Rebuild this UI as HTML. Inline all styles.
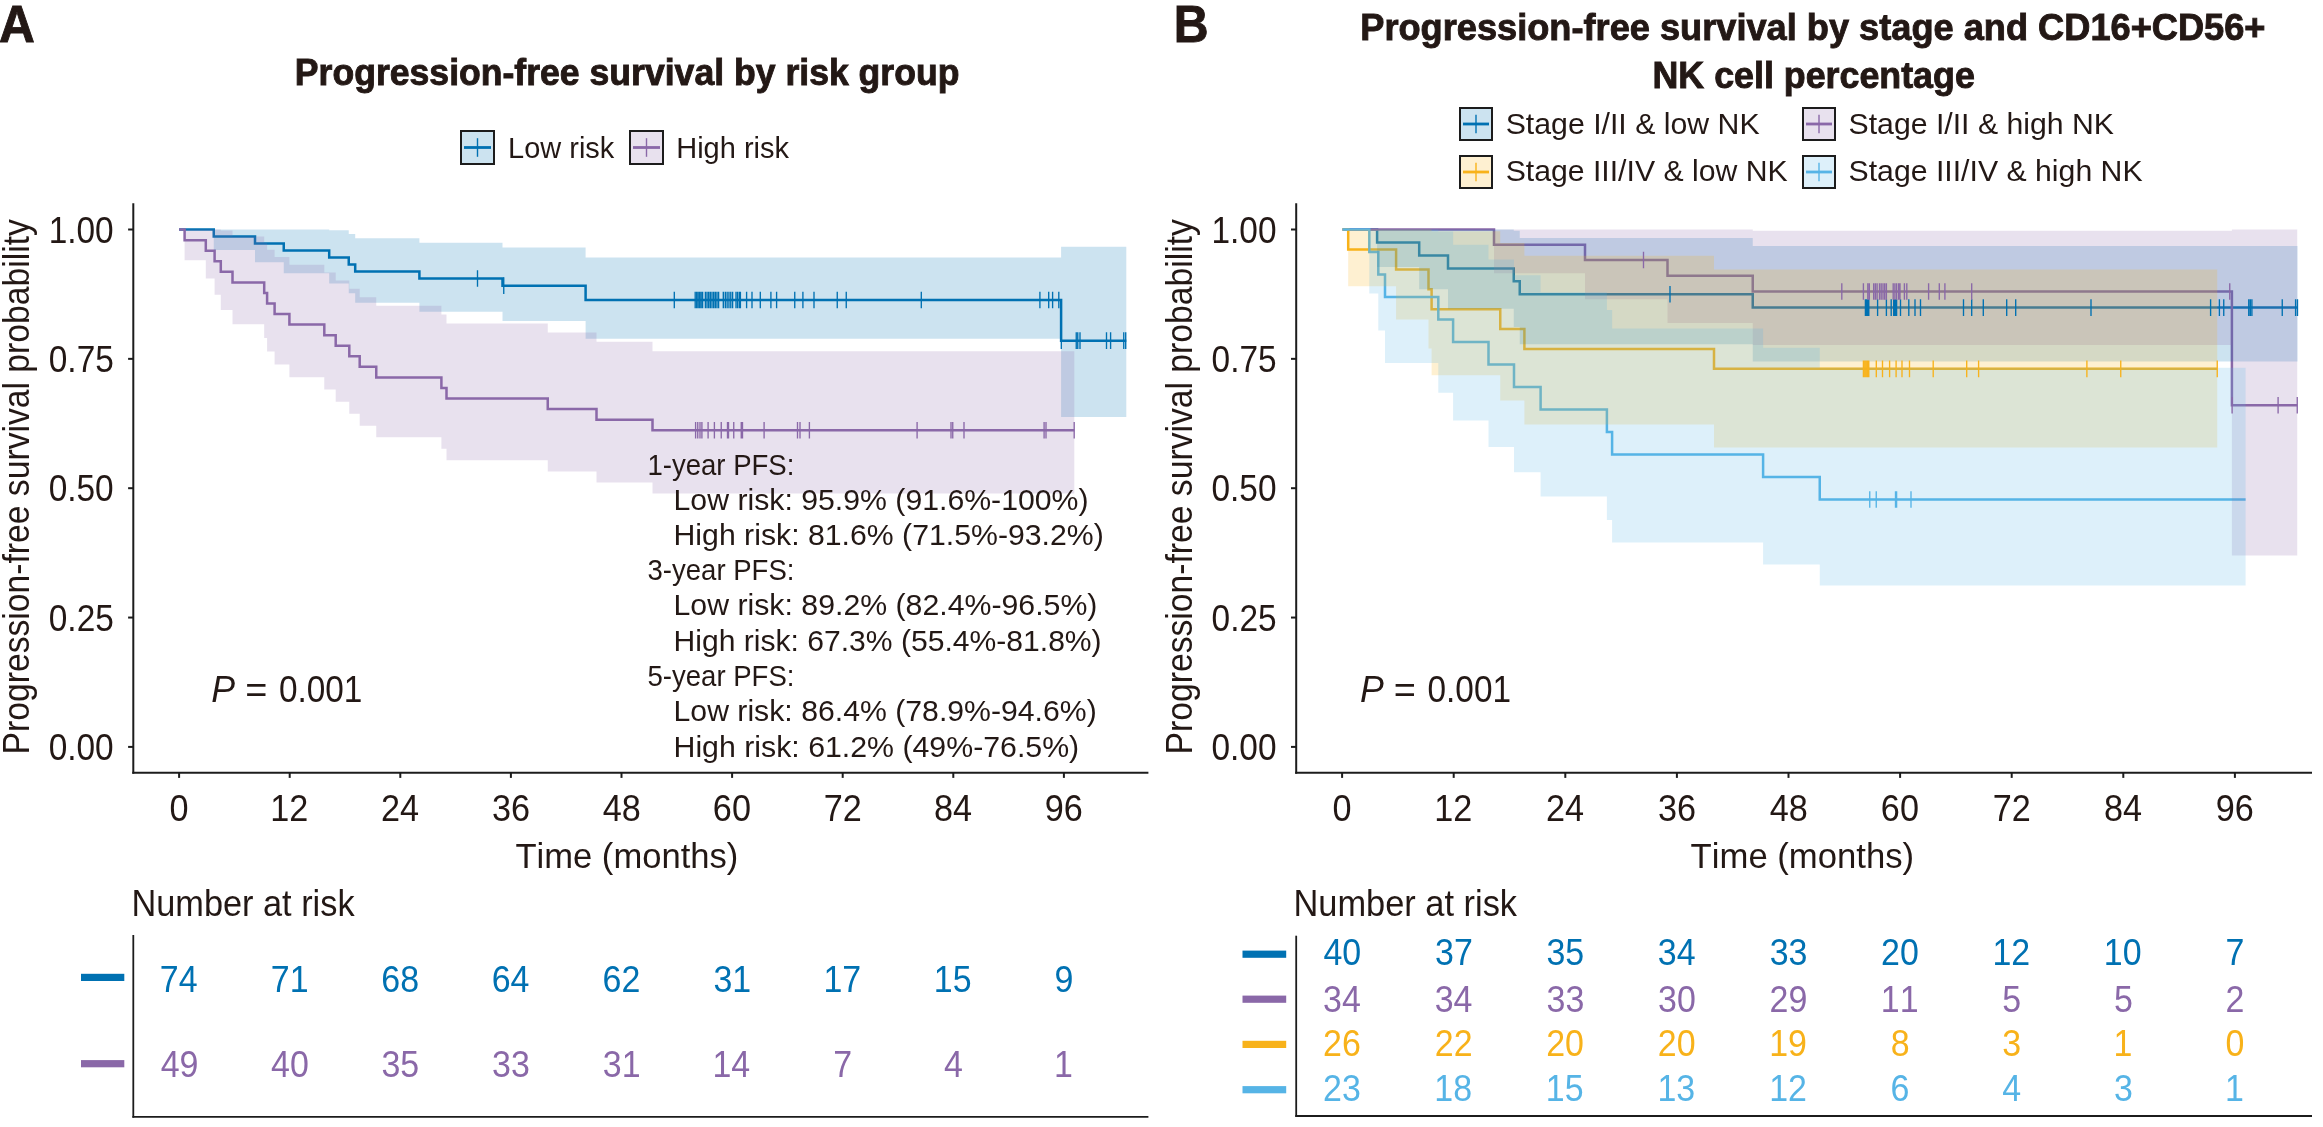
<!DOCTYPE html>
<html><head><meta charset="utf-8"><style>
html,body{margin:0;padding:0;background:#fff;}
svg{display:block;font-family:"Liberation Sans",sans-serif;font-kerning:none;will-change:transform;}
</style></head><body>
<svg width="2323" height="1127" viewBox="0 0 2323 1127">
<rect width="2323" height="1127" fill="#fff"/>
<text x="-0.94" y="41.80" font-size="52" font-weight="bold" stroke="#231815" stroke-width="0.9" fill="#231815" textLength="35.84" lengthAdjust="spacingAndGlyphs">A</text>
<text x="294.82" y="85.10" font-size="36.6" font-weight="bold" stroke="#231815" stroke-width="0.9" fill="#231815" textLength="664.64" lengthAdjust="spacingAndGlyphs">Progression-free survival by risk group</text>
<rect x="461" y="131" width="33" height="33" fill="#0071B2" fill-opacity="0.2" stroke="#1c1c1c" stroke-width="2"/>
<line x1="464" y1="147.5" x2="491" y2="147.5" stroke="#0071B2" stroke-width="2.8"/>
<line x1="477.5" y1="138.2" x2="477.5" y2="156.8" stroke="#0071B2" stroke-width="1.4"/>
<rect x="630" y="131" width="33" height="33" fill="#8A68A8" fill-opacity="0.2" stroke="#1c1c1c" stroke-width="2"/>
<line x1="633" y1="147.5" x2="660" y2="147.5" stroke="#8A68A8" stroke-width="2.8"/>
<line x1="646.5" y1="138.2" x2="646.5" y2="156.8" stroke="#8A68A8" stroke-width="1.4"/>
<text x="508.12" y="157.90" font-size="30.4" fill="#231815" textLength="106.23" lengthAdjust="spacingAndGlyphs">Low risk</text>
<text x="676.22" y="157.90" font-size="30.4" fill="#231815" textLength="112.74" lengthAdjust="spacingAndGlyphs">High risk</text>
<path d="M179.10,229.60H213.75V236.59H255.00V243.58H283.75V250.57H329.20V257.56H348.75V264.55H355.20V271.54H419.40V278.53H502.50V285.63H585.60V300.04H1061.10V340.67H1126.30" stroke="#0071B2" stroke-width="2.5" fill="none"/>
<path d="M179.10,229.60H184.60V240.16H205.80V250.71H214.60V261.27H220.80V271.83H232.50V282.39H264.20V292.94H267.10V303.50H274.60V314.06H289.40V324.61H324.30V335.17H335.70V345.73H349.30V356.29H359.70V366.84H376.25V377.40H441.40V387.96H446.50V398.51H547.75V409.07H596.50V419.63H652.50V430.19H1074.30" stroke="#8A68A8" stroke-width="2.5" fill="none"/>
<path d="M213.75,229.60 L213.75,229.60 L255.00,229.60 L255.00,229.60 L283.75,229.60 L283.75,229.60 L329.20,229.60 L329.20,230.17 L348.75,230.17 L348.75,234.04 L355.20,234.04 L355.20,238.26 L419.40,238.26 L419.40,242.74 L502.50,242.74 L502.50,247.47 L585.60,247.47 L585.60,257.54 L1061.10,257.54 L1061.10,246.84 L1126.30,246.84 L1126.30,416.89 L1061.10,416.89 L1061.10,338.86 L585.60,338.86 L585.60,320.88 L502.50,320.88 L502.50,311.79 L419.40,311.79 L419.40,302.65 L355.20,302.65 L355.20,293.25 L348.75,293.25 L348.75,283.50 L329.20,283.50 L329.20,273.28 L283.75,273.28 L283.75,262.34 L255.00,262.34 L255.00,250.02 L213.75,250.02 L213.75,229.60Z" fill="#0071B2" fill-opacity="0.2"/>
<path d="M184.60,229.60 L184.60,229.60 L205.80,229.60 L205.80,229.60 L214.60,229.60 L214.60,229.60 L220.80,229.60 L220.80,230.47 L232.50,230.47 L232.50,236.41 L264.20,236.41 L264.20,242.89 L267.10,242.89 L267.10,249.80 L274.60,249.80 L274.60,257.07 L289.40,257.07 L289.40,264.63 L324.30,264.63 L324.30,272.45 L335.70,272.45 L335.70,280.50 L349.30,280.50 L349.30,288.76 L359.70,288.76 L359.70,297.20 L376.25,297.20 L376.25,305.81 L441.40,305.81 L441.40,314.59 L446.50,314.59 L446.50,323.52 L547.75,323.52 L547.75,332.59 L596.50,332.59 L596.50,341.79 L652.50,341.79 L652.50,351.13 L1074.30,351.13 L1074.30,493.45 L652.50,493.45 L652.50,482.51 L596.50,482.51 L596.50,471.44 L547.75,471.44 L547.75,460.23 L446.50,460.23 L446.50,448.87 L441.40,448.87 L441.40,437.37 L376.25,437.37 L376.25,425.70 L359.70,425.70 L359.70,413.86 L349.30,413.86 L349.30,401.83 L335.70,401.83 L335.70,389.60 L324.30,389.60 L324.30,377.14 L289.40,377.14 L289.40,364.41 L274.60,364.41 L274.60,351.40 L267.10,351.40 L267.10,338.02 L264.20,338.02 L264.20,324.22 L232.50,324.22 L232.50,309.88 L220.80,309.88 L220.80,294.78 L214.60,294.78 L214.60,278.56 L205.80,278.56 L205.80,260.23 L184.60,260.23 L184.60,229.60Z" fill="#8A68A8" fill-opacity="0.2"/>
<path d="M477.50,270.23V286.83M503.75,277.33V293.93M674.30,291.74V308.34M695.20,291.74V308.34M696.68,291.74V308.34M698.16,291.74V308.34M699.64,291.74V308.34M701.12,291.74V308.34M702.60,291.74V308.34M705.40,291.74V308.34M707.05,291.74V308.34M708.70,291.74V308.34M710.35,291.74V308.34M712.00,291.74V308.34M713.65,291.74V308.34M715.30,291.74V308.34M716.95,291.74V308.34M718.60,291.74V308.34M723.30,291.74V308.34M725.30,291.74V308.34M727.12,291.74V308.34M728.95,291.74V308.34M730.77,291.74V308.34M732.60,291.74V308.34M736.00,291.74V308.34M737.60,291.74V308.34M739.40,291.74V308.34M740.40,291.74V308.34M746.60,291.74V308.34M752.00,291.74V308.34M760.30,291.74V308.34M770.90,291.74V308.34M776.60,291.74V308.34M794.75,291.74V308.34M802.90,291.74V308.34M814.00,291.74V308.34M837.25,291.74V308.34M846.25,291.74V308.34M921.30,291.74V308.34M1039.90,291.74V308.34M1048.70,291.74V308.34M1052.60,291.74V308.34M1058.80,291.74V308.34M1061.30,332.37V348.97M1076.25,332.37V348.97M1077.75,332.37V348.97M1080.00,332.37V348.97M1106.50,332.37V348.97M1110.60,332.37V348.97M1123.75,332.37V348.97M1125.70,332.37V348.97" stroke="#0071B2" stroke-width="1.35" fill="none"/>
<path d="M695.60,421.89V438.49M697.75,421.89V438.49M700.00,421.89V438.49M701.90,421.89V438.49M708.10,421.89V438.49M714.40,421.89V438.49M721.25,421.89V438.49M727.50,421.89V438.49M728.50,421.89V438.49M733.75,421.89V438.49M741.25,421.89V438.49M742.50,421.89V438.49M764.10,421.89V438.49M797.50,421.89V438.49M800.00,421.89V438.49M809.40,421.89V438.49M917.10,421.89V438.49M951.00,421.89V438.49M952.75,421.89V438.49M964.00,421.89V438.49M1044.10,421.89V438.49M1046.00,421.89V438.49M1074.20,421.89V438.49" stroke="#8A68A8" stroke-width="1.35" fill="none"/>
<line x1="133.3" y1="203.3" x2="133.3" y2="773.7" stroke="#1c1c1c" stroke-width="2"/>
<line x1="132.3" y1="772.7" x2="1148.4" y2="772.7" stroke="#1c1c1c" stroke-width="2"/>
<line x1="128.10000000000002" y1="229.5" x2="133.3" y2="229.5" stroke="#1c1c1c" stroke-width="2"/>
<text x="48.70" y="242.70" font-size="36.5" fill="#231815" textLength="65.00" lengthAdjust="spacingAndGlyphs">1.00</text>
<line x1="128.10000000000002" y1="358.85" x2="133.3" y2="358.85" stroke="#1c1c1c" stroke-width="2"/>
<text x="48.80" y="372.05" font-size="36.5" fill="#231815" textLength="65.00" lengthAdjust="spacingAndGlyphs">0.75</text>
<line x1="128.10000000000002" y1="488.2" x2="133.3" y2="488.2" stroke="#1c1c1c" stroke-width="2"/>
<text x="48.70" y="501.40" font-size="36.5" fill="#231815" textLength="65.00" lengthAdjust="spacingAndGlyphs">0.50</text>
<line x1="128.10000000000002" y1="617.55" x2="133.3" y2="617.55" stroke="#1c1c1c" stroke-width="2"/>
<text x="48.80" y="630.75" font-size="36.5" fill="#231815" textLength="65.00" lengthAdjust="spacingAndGlyphs">0.25</text>
<line x1="128.10000000000002" y1="746.9" x2="133.3" y2="746.9" stroke="#1c1c1c" stroke-width="2"/>
<text x="48.70" y="760.10" font-size="36.5" fill="#231815" textLength="65.00" lengthAdjust="spacingAndGlyphs">0.00</text>
<line x1="179.1" y1="772.7" x2="179.1" y2="777.9" stroke="#1c1c1c" stroke-width="2"/>
<text x="169.58" y="820.60" font-size="37" fill="#231815" textLength="19.03" lengthAdjust="spacingAndGlyphs">0</text>
<line x1="289.7" y1="772.7" x2="289.7" y2="777.9" stroke="#1c1c1c" stroke-width="2"/>
<text x="270.22" y="820.60" font-size="37" fill="#231815" textLength="38.07" lengthAdjust="spacingAndGlyphs">12</text>
<line x1="400.29999999999995" y1="772.7" x2="400.29999999999995" y2="777.9" stroke="#1c1c1c" stroke-width="2"/>
<text x="380.91" y="820.60" font-size="37" fill="#231815" textLength="38.07" lengthAdjust="spacingAndGlyphs">24</text>
<line x1="510.9" y1="772.7" x2="510.9" y2="777.9" stroke="#1c1c1c" stroke-width="2"/>
<text x="491.97" y="820.60" font-size="37" fill="#231815" textLength="38.07" lengthAdjust="spacingAndGlyphs">36</text>
<line x1="621.5" y1="772.7" x2="621.5" y2="777.9" stroke="#1c1c1c" stroke-width="2"/>
<text x="602.82" y="820.60" font-size="37" fill="#231815" textLength="38.07" lengthAdjust="spacingAndGlyphs">48</text>
<line x1="732.1" y1="772.7" x2="732.1" y2="777.9" stroke="#1c1c1c" stroke-width="2"/>
<text x="712.87" y="820.60" font-size="37" fill="#231815" textLength="38.07" lengthAdjust="spacingAndGlyphs">60</text>
<line x1="842.6999999999999" y1="772.7" x2="842.6999999999999" y2="777.9" stroke="#1c1c1c" stroke-width="2"/>
<text x="823.65" y="820.60" font-size="37" fill="#231815" textLength="38.07" lengthAdjust="spacingAndGlyphs">72</text>
<line x1="953.3" y1="772.7" x2="953.3" y2="777.9" stroke="#1c1c1c" stroke-width="2"/>
<text x="934.02" y="820.60" font-size="37" fill="#231815" textLength="38.07" lengthAdjust="spacingAndGlyphs">84</text>
<line x1="1063.8999999999999" y1="772.7" x2="1063.8999999999999" y2="777.9" stroke="#1c1c1c" stroke-width="2"/>
<text x="1044.82" y="820.60" font-size="37" fill="#231815" textLength="38.07" lengthAdjust="spacingAndGlyphs">96</text>
<text transform="rotate(-90)" x="-754.46" y="29.1" font-size="36" fill="#231815" textLength="535.33" lengthAdjust="spacingAndGlyphs">Progression-free survival probability</text>
<text x="515.42" y="867.80" font-size="35.8" fill="#231815" textLength="222.92" lengthAdjust="spacingAndGlyphs">Time (months)</text>
<text x="647.40" y="475.00" font-size="30" fill="#231815" textLength="147.02" lengthAdjust="spacingAndGlyphs">1-year PFS:</text>
<text x="673.52" y="509.90" font-size="30" fill="#231815" textLength="415.05" lengthAdjust="spacingAndGlyphs">Low risk: 95.9% (91.6%-100%)</text>
<text x="673.52" y="545.30" font-size="30" fill="#231815" textLength="430.26" lengthAdjust="spacingAndGlyphs">High risk: 81.6% (71.5%-93.2%)</text>
<text x="647.55" y="580.30" font-size="30" fill="#231815" textLength="146.86" lengthAdjust="spacingAndGlyphs">3-year PFS:</text>
<text x="673.52" y="615.40" font-size="30" fill="#231815" textLength="423.86" lengthAdjust="spacingAndGlyphs">Low risk: 89.2% (82.4%-96.5%)</text>
<text x="673.53" y="650.70" font-size="30" fill="#231815" textLength="428.13" lengthAdjust="spacingAndGlyphs">High risk: 67.3% (55.4%-81.8%)</text>
<text x="647.50" y="685.90" font-size="30" fill="#231815" textLength="146.92" lengthAdjust="spacingAndGlyphs">5-year PFS:</text>
<text x="673.52" y="721.20" font-size="30" fill="#231815" textLength="423.25" lengthAdjust="spacingAndGlyphs">Low risk: 86.4% (78.9%-94.6%)</text>
<text x="673.52" y="756.60" font-size="30" fill="#231815" textLength="405.66" lengthAdjust="spacingAndGlyphs">High risk: 61.2% (49%-76.5%)</text>
<text x="211.30" y="701.80" font-size="36" font-style="italic" fill="#231815" textLength="23.83" lengthAdjust="spacingAndGlyphs">P</text>
<text x="245.25" y="701.80" font-size="36" fill="#231815" textLength="22.12" lengthAdjust="spacingAndGlyphs">=</text>
<text x="278.90" y="701.80" font-size="36" fill="#231815" textLength="83.53" lengthAdjust="spacingAndGlyphs">0.001</text>
<text x="131.49" y="916.40" font-size="36.5" fill="#231815" textLength="223.06" lengthAdjust="spacingAndGlyphs">Number at risk</text>
<line x1="133.3" y1="935" x2="133.3" y2="1117.7" stroke="#1c1c1c" stroke-width="1.8"/>
<line x1="132.4" y1="1116.8" x2="1148.4" y2="1116.8" stroke="#1c1c1c" stroke-width="1.8"/>
<rect x="81" y="973.80" width="43.30" height="7.2" fill="#0071B2"/>
<text x="159.85" y="992.30" font-size="36.5" fill="#0071B2" textLength="37.76" lengthAdjust="spacingAndGlyphs">74</text>
<text x="270.78" y="992.30" font-size="36.5" fill="#0071B2" textLength="37.76" lengthAdjust="spacingAndGlyphs">71</text>
<text x="381.30" y="992.30" font-size="36.5" fill="#0071B2" textLength="37.76" lengthAdjust="spacingAndGlyphs">68</text>
<text x="491.66" y="992.30" font-size="36.5" fill="#0071B2" textLength="37.76" lengthAdjust="spacingAndGlyphs">64</text>
<text x="602.61" y="992.30" font-size="36.5" fill="#0071B2" textLength="37.76" lengthAdjust="spacingAndGlyphs">62</text>
<text x="713.40" y="992.30" font-size="36.5" fill="#0071B2" textLength="37.76" lengthAdjust="spacingAndGlyphs">31</text>
<text x="823.38" y="992.30" font-size="36.5" fill="#0071B2" textLength="37.76" lengthAdjust="spacingAndGlyphs">17</text>
<text x="933.84" y="992.30" font-size="36.5" fill="#0071B2" textLength="37.76" lengthAdjust="spacingAndGlyphs">15</text>
<text x="1054.47" y="992.30" font-size="36.5" fill="#0071B2" textLength="18.88" lengthAdjust="spacingAndGlyphs">9</text>
<rect x="81" y="1060.10" width="43.30" height="7.2" fill="#8A68A8"/>
<text x="160.64" y="1076.90" font-size="36.5" fill="#8A68A8" textLength="37.76" lengthAdjust="spacingAndGlyphs">49</text>
<text x="271.09" y="1076.90" font-size="36.5" fill="#8A68A8" textLength="37.76" lengthAdjust="spacingAndGlyphs">40</text>
<text x="381.49" y="1076.90" font-size="36.5" fill="#8A68A8" textLength="37.76" lengthAdjust="spacingAndGlyphs">35</text>
<text x="492.12" y="1076.90" font-size="36.5" fill="#8A68A8" textLength="37.76" lengthAdjust="spacingAndGlyphs">33</text>
<text x="602.80" y="1076.90" font-size="36.5" fill="#8A68A8" textLength="37.76" lengthAdjust="spacingAndGlyphs">31</text>
<text x="712.43" y="1076.90" font-size="36.5" fill="#8A68A8" textLength="37.76" lengthAdjust="spacingAndGlyphs">14</text>
<text x="833.24" y="1076.90" font-size="36.5" fill="#8A68A8" textLength="18.88" lengthAdjust="spacingAndGlyphs">7</text>
<text x="943.97" y="1076.90" font-size="36.5" fill="#8A68A8" textLength="18.88" lengthAdjust="spacingAndGlyphs">4</text>
<text x="1054.00" y="1076.90" font-size="36.5" fill="#8A68A8" textLength="18.88" lengthAdjust="spacingAndGlyphs">1</text>
<text x="1173.78" y="41.60" font-size="52" font-weight="bold" stroke="#231815" stroke-width="0.9" fill="#231815" textLength="34.81" lengthAdjust="spacingAndGlyphs">B</text>
<text x="1360.28" y="40.00" font-size="36.6" font-weight="bold" stroke="#231815" stroke-width="0.9" fill="#231815" textLength="905.19" lengthAdjust="spacingAndGlyphs">Progression-free survival by stage and CD16+CD56+</text>
<text x="1652.51" y="87.90" font-size="36.6" font-weight="bold" stroke="#231815" stroke-width="0.9" fill="#231815" textLength="322.32" lengthAdjust="spacingAndGlyphs">NK cell percentage</text>
<rect x="1460" y="108" width="32" height="32" fill="#0071B2" fill-opacity="0.2" stroke="#1c1c1c" stroke-width="2"/>
<line x1="1463" y1="124.0" x2="1489" y2="124.0" stroke="#0071B2" stroke-width="2.8"/>
<line x1="1476.0" y1="114.7" x2="1476.0" y2="133.3" stroke="#0071B2" stroke-width="1.4"/>
<rect x="1803" y="108" width="32" height="32" fill="#8A68A8" fill-opacity="0.2" stroke="#1c1c1c" stroke-width="2"/>
<line x1="1806" y1="124.0" x2="1832" y2="124.0" stroke="#8A68A8" stroke-width="2.8"/>
<line x1="1819.0" y1="114.7" x2="1819.0" y2="133.3" stroke="#8A68A8" stroke-width="1.4"/>
<rect x="1460" y="156" width="32" height="32" fill="#F8B21A" fill-opacity="0.2" stroke="#1c1c1c" stroke-width="2"/>
<line x1="1463" y1="172.0" x2="1489" y2="172.0" stroke="#F8B21A" stroke-width="2.8"/>
<line x1="1476.0" y1="162.7" x2="1476.0" y2="181.3" stroke="#F8B21A" stroke-width="1.4"/>
<rect x="1803" y="156" width="32" height="32" fill="#56B4E6" fill-opacity="0.2" stroke="#1c1c1c" stroke-width="2"/>
<line x1="1806" y1="172.0" x2="1832" y2="172.0" stroke="#56B4E6" stroke-width="2.8"/>
<line x1="1819.0" y1="162.7" x2="1819.0" y2="181.3" stroke="#56B4E6" stroke-width="1.4"/>
<text x="1505.63" y="133.50" font-size="29.8" fill="#231815" textLength="254.01" lengthAdjust="spacingAndGlyphs">Stage I/II &amp; low NK</text>
<text x="1848.53" y="133.50" font-size="29.8" fill="#231815" textLength="265.51" lengthAdjust="spacingAndGlyphs">Stage I/II &amp; high NK</text>
<text x="1505.63" y="181.20" font-size="29.8" fill="#231815" textLength="282.01" lengthAdjust="spacingAndGlyphs">Stage III/IV &amp; low NK</text>
<text x="1848.53" y="181.20" font-size="29.8" fill="#231815" textLength="294.11" lengthAdjust="spacingAndGlyphs">Stage III/IV &amp; high NK</text>
<path d="M1342.60,229.60H1377.10V242.53H1419.20V255.47H1448.00V268.40H1513.75V281.33H1519.75V294.26H1752.75V307.58H2297.50" stroke="#0071B2" stroke-width="2.5" fill="none"/>
<path d="M1342.60,229.60H1494.00V244.81H1585.00V260.03H1667.50V275.73H1752.75V291.44H2231.90V405.31H2297.25" stroke="#8A68A8" stroke-width="2.5" fill="none"/>
<path d="M1342.60,229.60H1348.20V249.50H1396.10V269.39H1428.50V289.29H1431.60V309.18H1500.25V329.08H1524.40V348.98H1714.00V368.87H2217.25" stroke="#F8B21A" stroke-width="2.5" fill="none"/>
<path d="M1342.60,229.60H1369.30V252.09H1378.30V274.58H1385.00V297.07H1438.30V319.57H1453.10V342.06H1488.50V364.55H1514.00V387.04H1540.60V409.53H1606.90V432.02H1612.10V454.51H1763.10V477.00H1819.75V499.50H2245.60" stroke="#56B4E6" stroke-width="2.5" fill="none"/>
<path d="M1377.10,229.60 L1377.10,229.60 L1419.20,229.60 L1419.20,229.60 L1448.00,229.60 L1448.00,229.60 L1513.75,229.60 L1513.75,230.66 L1519.75,230.66 L1519.75,238.01 L1752.75,238.01 L1752.75,246.12 L2297.50,246.12 L2297.50,361.49 L1752.75,361.49 L1752.75,344.29 L1519.75,344.29 L1519.75,327.02 L1513.75,327.02 L1513.75,308.81 L1448.00,308.81 L1448.00,289.19 L1419.20,289.19 L1419.20,266.95 L1377.10,266.95 L1377.10,229.60Z" fill="#0071B2" fill-opacity="0.2"/>
<path d="M1494.00,229.60 L1494.00,229.60 L1585.00,229.60 L1585.00,229.60 L1667.50,229.60 L1667.50,229.60 L1752.75,229.60 L1752.75,230.83 L2231.90,230.83 L2231.90,229.60 L2297.25,229.60 L2297.25,555.53 L2231.90,555.53 L2231.90,344.93 L1752.75,344.93 L1752.75,323.04 L1667.50,323.04 L1667.50,299.27 L1585.00,299.27 L1585.00,273.35 L1494.00,273.35 L1494.00,229.60Z" fill="#8A68A8" fill-opacity="0.2"/>
<path d="M1348.20,229.60 L1348.20,229.60 L1396.10,229.60 L1396.10,229.60 L1428.50,229.60 L1428.50,229.60 L1431.60,229.60 L1431.60,231.23 L1500.25,231.23 L1500.25,242.88 L1524.40,242.88 L1524.40,255.73 L1714.00,255.73 L1714.00,269.54 L2217.25,269.54 L2217.25,447.54 L1714.00,447.54 L1714.00,424.52 L1524.40,424.52 L1524.40,400.54 L1500.25,400.54 L1500.25,375.36 L1431.60,375.36 L1431.60,348.60 L1428.50,348.60 L1428.50,319.54 L1396.10,319.54 L1396.10,286.30 L1348.20,286.30 L1348.20,229.60Z" fill="#F8B21A" fill-opacity="0.2"/>
<path d="M1369.30,229.60 L1369.30,229.60 L1378.30,229.60 L1378.30,229.60 L1385.00,229.60 L1385.00,229.60 L1438.30,229.60 L1438.30,231.43 L1453.10,231.43 L1453.10,244.75 L1488.50,244.75 L1488.50,259.47 L1514.00,259.47 L1514.00,275.34 L1540.60,275.34 L1540.60,292.20 L1606.90,292.20 L1606.90,309.93 L1612.10,309.93 L1612.10,328.47 L1763.10,328.47 L1763.10,347.76 L1819.75,347.76 L1819.75,367.77 L2245.60,367.77 L2245.60,585.46 L1819.75,585.46 L1819.75,564.40 L1763.10,564.40 L1763.10,542.59 L1612.10,542.59 L1612.10,520.00 L1606.90,520.00 L1606.90,496.59 L1540.60,496.59 L1540.60,472.28 L1514.00,472.28 L1514.00,446.97 L1488.50,446.97 L1488.50,420.51 L1453.10,420.51 L1453.10,392.63 L1438.30,392.63 L1438.30,362.93 L1385.00,362.93 L1385.00,330.55 L1378.30,330.55 L1378.30,293.38 L1369.30,293.38 L1369.30,229.60Z" fill="#56B4E6" fill-opacity="0.2"/>
<path d="M1670.00,285.96V302.56M1865.40,299.28V315.88M1866.60,299.28V315.88M1867.80,299.28V315.88M1868.80,299.28V315.88M1877.60,299.28V315.88M1886.40,299.28V315.88M1891.20,299.28V315.88M1893.70,299.28V315.88M1894.70,299.28V315.88M1895.60,299.28V315.88M1896.60,299.28V315.88M1900.50,299.28V315.88M1908.80,299.28V315.88M1915.00,299.28V315.88M1920.50,299.28V315.88M1963.50,299.28V315.88M1971.70,299.28V315.88M1983.30,299.28V315.88M2006.70,299.28V315.88M2015.70,299.28V315.88M2091.00,299.28V315.88M2210.60,299.28V315.88M2219.40,299.28V315.88M2223.75,299.28V315.88M2248.75,299.28V315.88M2250.30,299.28V315.88M2251.90,299.28V315.88M2282.25,299.28V315.88M2295.60,299.28V315.88M2297.50,299.28V315.88" stroke="#0071B2" stroke-width="1.35" fill="none"/>
<path d="M1643.50,251.73V268.33M1841.80,283.14V299.74M1863.40,283.14V299.74M1867.80,283.14V299.74M1869.30,283.14V299.74M1873.70,283.14V299.74M1875.40,283.14V299.74M1877.10,283.14V299.74M1879.50,283.14V299.74M1881.20,283.14V299.74M1883.00,283.14V299.74M1884.70,283.14V299.74M1886.40,283.14V299.74M1893.20,283.14V299.74M1894.90,283.14V299.74M1896.60,283.14V299.74M1898.60,283.14V299.74M1900.00,283.14V299.74M1904.40,283.14V299.74M1906.80,283.14V299.74M1928.60,283.14V299.74M1939.30,283.14V299.74M1944.90,283.14V299.74M1971.70,283.14V299.74M2229.75,283.14V299.74M2232.10,397.01V413.61M2278.10,397.01V413.61M2297.25,397.01V413.61" stroke="#8A68A8" stroke-width="1.35" fill="none"/>
<path d="M1863.40,360.57V377.17M1864.80,360.57V377.17M1866.20,360.57V377.17M1867.60,360.57V377.17M1868.80,360.57V377.17M1876.30,360.57V377.17M1882.50,360.57V377.17M1889.60,360.57V377.17M1896.10,360.57V377.17M1902.00,360.57V377.17M1909.50,360.57V377.17M1933.20,360.57V377.17M1966.70,360.57V377.17M1978.60,360.57V377.17M2086.90,360.57V377.17M2120.75,360.57V377.17M2217.25,360.57V377.17" stroke="#F8B21A" stroke-width="1.35" fill="none"/>
<path d="M1869.75,491.20V507.80M1876.25,491.20V507.80M1895.50,491.20V507.80M1896.60,491.20V507.80M1911.00,491.20V507.80" stroke="#56B4E6" stroke-width="1.35" fill="none"/>
<line x1="1296.2" y1="203.3" x2="1296.2" y2="773.7" stroke="#1c1c1c" stroke-width="2"/>
<line x1="1295.2" y1="772.7" x2="2312" y2="772.7" stroke="#1c1c1c" stroke-width="2"/>
<line x1="1291.0" y1="229.5" x2="1296.2" y2="229.5" stroke="#1c1c1c" stroke-width="2"/>
<text x="1211.50" y="242.70" font-size="36.5" fill="#231815" textLength="65.00" lengthAdjust="spacingAndGlyphs">1.00</text>
<line x1="1291.0" y1="358.85" x2="1296.2" y2="358.85" stroke="#1c1c1c" stroke-width="2"/>
<text x="1211.60" y="372.05" font-size="36.5" fill="#231815" textLength="65.00" lengthAdjust="spacingAndGlyphs">0.75</text>
<line x1="1291.0" y1="488.2" x2="1296.2" y2="488.2" stroke="#1c1c1c" stroke-width="2"/>
<text x="1211.50" y="501.40" font-size="36.5" fill="#231815" textLength="65.00" lengthAdjust="spacingAndGlyphs">0.50</text>
<line x1="1291.0" y1="617.55" x2="1296.2" y2="617.55" stroke="#1c1c1c" stroke-width="2"/>
<text x="1211.60" y="630.75" font-size="36.5" fill="#231815" textLength="65.00" lengthAdjust="spacingAndGlyphs">0.25</text>
<line x1="1291.0" y1="746.9" x2="1296.2" y2="746.9" stroke="#1c1c1c" stroke-width="2"/>
<text x="1211.50" y="760.10" font-size="36.5" fill="#231815" textLength="65.00" lengthAdjust="spacingAndGlyphs">0.00</text>
<line x1="1342.1" y1="772.7" x2="1342.1" y2="777.9" stroke="#1c1c1c" stroke-width="2"/>
<text x="1332.58" y="820.60" font-size="37" fill="#231815" textLength="19.03" lengthAdjust="spacingAndGlyphs">0</text>
<line x1="1453.6999999999998" y1="772.7" x2="1453.6999999999998" y2="777.9" stroke="#1c1c1c" stroke-width="2"/>
<text x="1434.22" y="820.60" font-size="37" fill="#231815" textLength="38.07" lengthAdjust="spacingAndGlyphs">12</text>
<line x1="1565.3" y1="772.7" x2="1565.3" y2="777.9" stroke="#1c1c1c" stroke-width="2"/>
<text x="1545.91" y="820.60" font-size="37" fill="#231815" textLength="38.07" lengthAdjust="spacingAndGlyphs">24</text>
<line x1="1676.8999999999999" y1="772.7" x2="1676.8999999999999" y2="777.9" stroke="#1c1c1c" stroke-width="2"/>
<text x="1657.97" y="820.60" font-size="37" fill="#231815" textLength="38.07" lengthAdjust="spacingAndGlyphs">36</text>
<line x1="1788.5" y1="772.7" x2="1788.5" y2="777.9" stroke="#1c1c1c" stroke-width="2"/>
<text x="1769.82" y="820.60" font-size="37" fill="#231815" textLength="38.07" lengthAdjust="spacingAndGlyphs">48</text>
<line x1="1900.1" y1="772.7" x2="1900.1" y2="777.9" stroke="#1c1c1c" stroke-width="2"/>
<text x="1880.87" y="820.60" font-size="37" fill="#231815" textLength="38.07" lengthAdjust="spacingAndGlyphs">60</text>
<line x1="2011.6999999999998" y1="772.7" x2="2011.6999999999998" y2="777.9" stroke="#1c1c1c" stroke-width="2"/>
<text x="1992.65" y="820.60" font-size="37" fill="#231815" textLength="38.07" lengthAdjust="spacingAndGlyphs">72</text>
<line x1="2123.2999999999997" y1="772.7" x2="2123.2999999999997" y2="777.9" stroke="#1c1c1c" stroke-width="2"/>
<text x="2104.02" y="820.60" font-size="37" fill="#231815" textLength="38.07" lengthAdjust="spacingAndGlyphs">84</text>
<line x1="2234.8999999999996" y1="772.7" x2="2234.8999999999996" y2="777.9" stroke="#1c1c1c" stroke-width="2"/>
<text x="2215.82" y="820.60" font-size="37" fill="#231815" textLength="38.07" lengthAdjust="spacingAndGlyphs">96</text>
<text transform="rotate(-90)" x="-754.46" y="1191.5" font-size="36" fill="#231815" textLength="535.33" lengthAdjust="spacingAndGlyphs">Progression-free survival probability</text>
<text x="1690.62" y="867.90" font-size="35.8" fill="#231815" textLength="223.53" lengthAdjust="spacingAndGlyphs">Time (months)</text>
<text x="1359.90" y="701.80" font-size="36" font-style="italic" fill="#231815" textLength="23.83" lengthAdjust="spacingAndGlyphs">P</text>
<text x="1393.85" y="701.80" font-size="36" fill="#231815" textLength="22.12" lengthAdjust="spacingAndGlyphs">=</text>
<text x="1427.50" y="701.80" font-size="36" fill="#231815" textLength="83.53" lengthAdjust="spacingAndGlyphs">0.001</text>
<text x="1293.48" y="916.00" font-size="36.5" fill="#231815" textLength="223.57" lengthAdjust="spacingAndGlyphs">Number at risk</text>
<line x1="1296.2" y1="935.7" x2="1296.2" y2="1116.9" stroke="#1c1c1c" stroke-width="1.8"/>
<line x1="1295.3" y1="1116" x2="2312" y2="1116" stroke="#1c1c1c" stroke-width="1.8"/>
<rect x="1242.5" y="950.60" width="43.70" height="7.2" fill="#0071B2"/>
<text x="1323.49" y="964.80" font-size="36.5" fill="#0071B2" textLength="37.76" lengthAdjust="spacingAndGlyphs">40</text>
<text x="1435.03" y="964.80" font-size="36.5" fill="#0071B2" textLength="37.76" lengthAdjust="spacingAndGlyphs">37</text>
<text x="1546.49" y="964.80" font-size="36.5" fill="#0071B2" textLength="37.76" lengthAdjust="spacingAndGlyphs">35</text>
<text x="1657.87" y="964.80" font-size="36.5" fill="#0071B2" textLength="37.76" lengthAdjust="spacingAndGlyphs">34</text>
<text x="1769.72" y="964.80" font-size="36.5" fill="#0071B2" textLength="37.76" lengthAdjust="spacingAndGlyphs">33</text>
<text x="1881.03" y="964.80" font-size="36.5" fill="#0071B2" textLength="37.76" lengthAdjust="spacingAndGlyphs">20</text>
<text x="1992.38" y="964.80" font-size="36.5" fill="#0071B2" textLength="37.76" lengthAdjust="spacingAndGlyphs">12</text>
<text x="2103.79" y="964.80" font-size="36.5" fill="#0071B2" textLength="37.76" lengthAdjust="spacingAndGlyphs">10</text>
<text x="2225.44" y="964.80" font-size="36.5" fill="#0071B2" textLength="18.88" lengthAdjust="spacingAndGlyphs">7</text>
<rect x="1242.5" y="995.60" width="43.70" height="7.2" fill="#8A68A8"/>
<text x="1323.07" y="1012.00" font-size="36.5" fill="#8A68A8" textLength="37.76" lengthAdjust="spacingAndGlyphs">34</text>
<text x="1434.67" y="1012.00" font-size="36.5" fill="#8A68A8" textLength="37.76" lengthAdjust="spacingAndGlyphs">34</text>
<text x="1546.52" y="1012.00" font-size="36.5" fill="#8A68A8" textLength="37.76" lengthAdjust="spacingAndGlyphs">33</text>
<text x="1658.04" y="1012.00" font-size="36.5" fill="#8A68A8" textLength="37.76" lengthAdjust="spacingAndGlyphs">30</text>
<text x="1769.57" y="1012.00" font-size="36.5" fill="#8A68A8" textLength="37.76" lengthAdjust="spacingAndGlyphs">29</text>
<text x="1880.76" y="1012.00" font-size="36.5" fill="#8A68A8" textLength="37.76" lengthAdjust="spacingAndGlyphs">11</text>
<text x="2002.29" y="1012.00" font-size="36.5" fill="#8A68A8" textLength="18.88" lengthAdjust="spacingAndGlyphs">5</text>
<text x="2113.89" y="1012.00" font-size="36.5" fill="#8A68A8" textLength="18.88" lengthAdjust="spacingAndGlyphs">5</text>
<text x="2225.46" y="1012.00" font-size="36.5" fill="#8A68A8" textLength="18.88" lengthAdjust="spacingAndGlyphs">2</text>
<rect x="1242.5" y="1040.80" width="43.70" height="7.2" fill="#F8B21A"/>
<text x="1323.11" y="1055.70" font-size="36.5" fill="#F8B21A" textLength="37.76" lengthAdjust="spacingAndGlyphs">26</text>
<text x="1434.82" y="1055.70" font-size="36.5" fill="#F8B21A" textLength="37.76" lengthAdjust="spacingAndGlyphs">22</text>
<text x="1546.23" y="1055.70" font-size="36.5" fill="#F8B21A" textLength="37.76" lengthAdjust="spacingAndGlyphs">20</text>
<text x="1657.83" y="1055.70" font-size="36.5" fill="#F8B21A" textLength="37.76" lengthAdjust="spacingAndGlyphs">20</text>
<text x="1769.13" y="1055.70" font-size="36.5" fill="#F8B21A" textLength="37.76" lengthAdjust="spacingAndGlyphs">19</text>
<text x="1890.66" y="1055.70" font-size="36.5" fill="#F8B21A" textLength="18.88" lengthAdjust="spacingAndGlyphs">8</text>
<text x="2002.36" y="1055.70" font-size="36.5" fill="#F8B21A" textLength="18.88" lengthAdjust="spacingAndGlyphs">3</text>
<text x="2113.40" y="1055.70" font-size="36.5" fill="#F8B21A" textLength="18.88" lengthAdjust="spacingAndGlyphs">1</text>
<text x="2225.46" y="1055.70" font-size="36.5" fill="#F8B21A" textLength="18.88" lengthAdjust="spacingAndGlyphs">0</text>
<rect x="1242.5" y="1086.10" width="43.70" height="7.2" fill="#56B4E6"/>
<text x="1323.11" y="1100.50" font-size="36.5" fill="#56B4E6" textLength="37.76" lengthAdjust="spacingAndGlyphs">23</text>
<text x="1434.27" y="1100.50" font-size="36.5" fill="#56B4E6" textLength="37.76" lengthAdjust="spacingAndGlyphs">18</text>
<text x="1545.84" y="1100.50" font-size="36.5" fill="#56B4E6" textLength="37.76" lengthAdjust="spacingAndGlyphs">15</text>
<text x="1657.47" y="1100.50" font-size="36.5" fill="#56B4E6" textLength="37.76" lengthAdjust="spacingAndGlyphs">13</text>
<text x="1769.18" y="1100.50" font-size="36.5" fill="#56B4E6" textLength="37.76" lengthAdjust="spacingAndGlyphs">12</text>
<text x="1890.54" y="1100.50" font-size="36.5" fill="#56B4E6" textLength="18.88" lengthAdjust="spacingAndGlyphs">6</text>
<text x="2002.37" y="1100.50" font-size="36.5" fill="#56B4E6" textLength="18.88" lengthAdjust="spacingAndGlyphs">4</text>
<text x="2113.96" y="1100.50" font-size="36.5" fill="#56B4E6" textLength="18.88" lengthAdjust="spacingAndGlyphs">3</text>
<text x="2225.00" y="1100.50" font-size="36.5" fill="#56B4E6" textLength="18.88" lengthAdjust="spacingAndGlyphs">1</text>
</svg></body></html>
